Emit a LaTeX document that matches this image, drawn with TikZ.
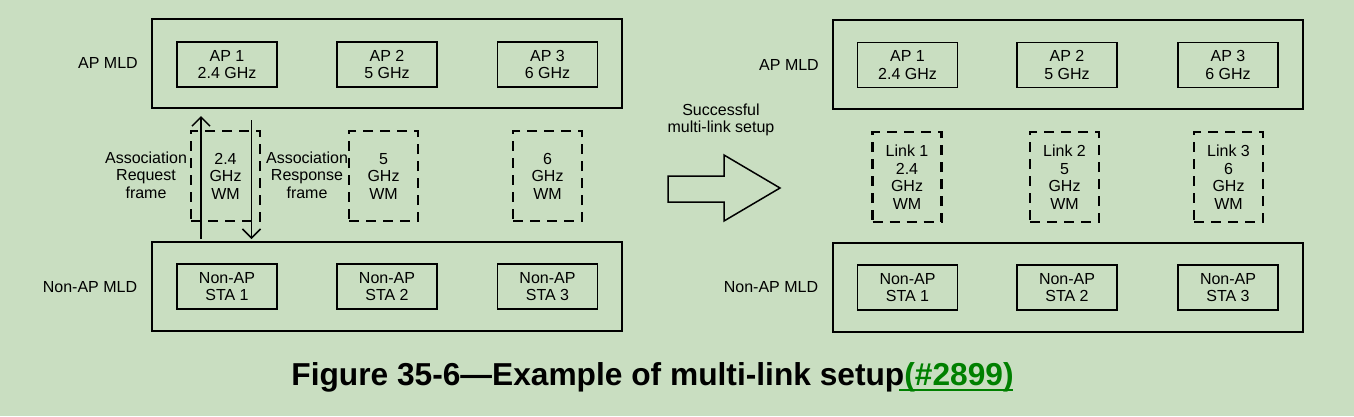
\documentclass[tikz,border=0pt]{standalone}
\usepackage{fontspec}
\setmainfont{Liberation Sans}
\usetikzlibrary{arrows.meta,positioning}
\definecolor{bggreen}{RGB}{201,222,193}
\definecolor{linkgreen}{RGB}{0,128,0}
\tikzset{
	dev/.style={draw, line width=1.5pt, minimum width=100pt, minimum height=45pt, align=center, inner sep=0pt},
	mld/.style={draw, line width=1.5pt, minimum width=470pt, minimum height=89pt},
	wm/.style={draw, line width=2.5pt, dash pattern=on 10pt off 7pt, minimum width=69pt, minimum height=90pt, align=center, inner sep=0pt},
	>={Straight Barb[length=9pt, width=18pt]}
}

\begin{document}
\begin{tikzpicture}[x=1pt, y=-1pt, font=\fontsize{16}{17.5}\selectfont]
			\fill[bggreen] (0,0) rectangle (1354,416);
			\useasboundingbox (0,0) rectangle (1354,416);
			% before setup
			\node[mld] (apmld) at (387,63.5) {};
			\node[dev] (ap1) at (227,64.5) {AP 1\\2.4 GHz};
			\node[dev] (ap2) at (387,64.5) {AP 2\\5 GHz};
			\node[dev] (ap3) at (547.5,64.5) {AP 3\\6 GHz};
			\node (apmldlabel) at (108,63) {AP MLD};
			\node[wm] (wm1) at (225.5,176) {2.4\\GHz\\WM};
			\node[wm] (wm2) at (383.5,176) {5\\GHz\\WM};
			\node[wm] (wm3) at (547.5,176) {6\\GHz\\WM};
			\node[mld] (nonapmld) at (387,286.5) {};
			\node[dev] (sta1) at (227,286.5) {Non-AP\\STA 1};
			\node[dev] (sta2) at (387,286.5) {Non-AP\\STA 2};
			\node[dev] (sta3) at (547.5,286.5) {Non-AP\\STA 3};
			\node (nonapmldlabel) at (90,287) {Non-AP MLD};
			\node[align=center] (reqlabel) at (146,175) {Association\\Request\\frame};
			\node[align=center] (resplabel) at (307,175) {Association\\Response\\frame};
			\coordinate (reqfrom) at (201,239);
			\coordinate (reqto) at (201,116);
			\coordinate (respfrom) at (251.5,120);
			\coordinate (respto) at (251.5,239);
			\draw[->, line width=1.5pt] (reqfrom) to (reqto);
			\draw[->, line width=1.5pt] (respfrom) to (respto);
			% setup arrow
			\node[align=center] (setuplabel) at (721,120) {Successful\\multi-link setup};
			\draw[line width=1.5pt] (668,176) -- (724,176) -- (724,155) -- (780,188)
				-- (724,221) -- (724,202) -- (668,202) -- cycle;
			% after setup
			\node[mld] (apmldb) at (1068,64.5) {};
			\node[dev] (apb1) at (907.5,65) {AP 1\\2.4 GHz};
			\node[dev] (apb2) at (1067,65) {AP 2\\5 GHz};
			\node[dev] (apb3) at (1228,65) {AP 3\\6 GHz};
			\node (apmldblabel) at (789,65) {AP MLD};
			\node[wm] (link1) at (907,177) {Link 1\\2.4\\GHz\\WM};
			\node[wm] (link2) at (1064.5,177) {Link 2\\5\\GHz\\WM};
			\node[wm] (link3) at (1228.5,177) {Link 3\\6\\GHz\\WM};
			\node[mld] (nonapmldb) at (1068,287.5) {};
			\node[dev] (stab1) at (907.5,287.5) {Non-AP\\STA 1};
			\node[dev] (stab2) at (1067,287.5) {Non-AP\\STA 2};
			\node[dev] (stab3) at (1228,287.5) {Non-AP\\STA 3};
			\node (nonapmldblabel) at (771,287) {Non-AP MLD};
			% caption
			\node[anchor=base, font=\fontsize{31.7}{36}\selectfont\bfseries] (caption) at (652.5,385)
				{Figure 35-6—Example of multi-link setup\textcolor{linkgreen}{(\#2899)}};
			\draw[linkgreen, line width=2.5pt] (899,390) -- (1013,390);
			\end{tikzpicture}
\end{document}
